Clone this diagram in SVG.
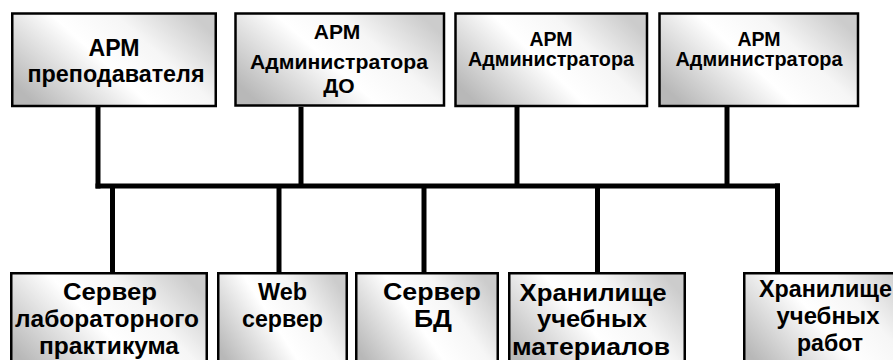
<svg xmlns="http://www.w3.org/2000/svg" width="893" height="360" viewBox="0 0 893 360">
<defs>
<linearGradient id="g" x1="0" y1="0.75" x2="1" y2="0.25">
<stop offset="0" stop-color="#b8b8b8"/>
<stop offset="0.45" stop-color="#ffffff"/>
<stop offset="0.7" stop-color="#f6f6f6"/>
<stop offset="1" stop-color="#cccccc"/>
</linearGradient>
</defs>
<style>
.box{fill:url(#g);stroke:#000;stroke-width:2.5}
.t{font-family:"Liberation Sans",Arial,sans-serif;font-weight:bold;fill:#000;text-anchor:middle}
.top1{font-size:23px}
.top2{font-size:21px}
.top3{font-size:19.5px}
.bot{font-size:23.5px}
.ln{stroke:#000;stroke-width:5;fill:none}
</style>
<rect width="893" height="360" fill="#fff"/>
<g id="connectors">
<line class="ln" x1="98" y1="107" x2="98" y2="188.5"/>
<line class="ln" x1="301" y1="107" x2="301" y2="186"/>
<line class="ln" x1="517" y1="107" x2="517" y2="186"/>
<line class="ln" x1="727" y1="107" x2="727" y2="186"/>
<line class="ln" x1="95.5" y1="186" x2="780" y2="186"/>
<line class="ln" x1="112.5" y1="186" x2="112.5" y2="272"/>
<line class="ln" x1="279" y1="186" x2="279" y2="272"/>
<line class="ln" x1="424" y1="186" x2="424" y2="272"/>
<line class="ln" x1="597.5" y1="186" x2="597.5" y2="272"/>
<line class="ln" x1="777.5" y1="183.5" x2="777.5" y2="272"/>
</g>
<g id="arm-teacher">
<rect class="box" x="12.25" y="13.5" width="203.5" height="92.5"/>
<text class="t top1" x="114" y="56" textLength="51" lengthAdjust="spacingAndGlyphs">АРМ</text>
<text class="t top1" x="116" y="82" textLength="177" lengthAdjust="spacingAndGlyphs">преподавателя</text>
</g>
<g id="arm-admin-do">
<rect class="box" x="235.5" y="13.5" width="208.5" height="92"/>
<text class="t top2" x="337" y="39">АРМ</text>
<text class="t top2" x="339" y="69" textLength="178" lengthAdjust="spacingAndGlyphs">Администратора</text>
<text class="t top2" x="339" y="93">ДО</text>
</g>
<g id="arm-admin-1">
<rect class="box" x="455.5" y="13.5" width="191.5" height="92.5"/>
<text class="t top3" x="551" y="46">АРМ</text>
<text class="t top3" x="551" y="66" textLength="166" lengthAdjust="spacingAndGlyphs">Администратора</text>
</g>
<g id="arm-admin-2">
<rect class="box" x="659.5" y="13.5" width="198.5" height="92.5"/>
<text class="t top3" x="759" y="46">АРМ</text>
<text class="t top3" x="759" y="66" textLength="167" lengthAdjust="spacingAndGlyphs">Администратора</text>
</g>
<g id="lab-server">
<rect class="box" x="11.25" y="273.25" width="195.5" height="100"/>
<text class="t bot" x="110" y="300" textLength="94" lengthAdjust="spacingAndGlyphs">Сервер</text>
<text class="t bot" x="107" y="327" textLength="184" lengthAdjust="spacingAndGlyphs">лабораторного</text>
<text class="t bot" x="109" y="354" textLength="140" lengthAdjust="spacingAndGlyphs">практикума</text>
</g>
<g id="web-server">
<rect class="box" x="218.25" y="273.25" width="128.5" height="100"/>
<text class="t bot" x="282.5" y="300" textLength="49" lengthAdjust="spacingAndGlyphs">Web</text>
<text class="t bot" x="282.5" y="327" textLength="81" lengthAdjust="spacingAndGlyphs">сервер</text>
</g>
<g id="db-server">
<rect class="box" x="356.25" y="273.25" width="141.5" height="100"/>
<text class="t bot" x="432" y="300" textLength="98" lengthAdjust="spacingAndGlyphs">Сервер</text>
<text class="t bot" x="433" y="327" textLength="38" lengthAdjust="spacingAndGlyphs">БД</text>
</g>
<g id="materials-storage">
<rect class="box" x="509.25" y="273.25" width="175.5" height="100"/>
<text class="t bot" x="593" y="301" textLength="147" lengthAdjust="spacingAndGlyphs">Хранилище</text>
<text class="t bot" x="592" y="327" textLength="110" lengthAdjust="spacingAndGlyphs">учебных</text>
<text class="t bot" x="591" y="355" textLength="158" lengthAdjust="spacingAndGlyphs">материалов</text>
</g>
<g id="works-storage">
<rect class="box" x="744.25" y="273.25" width="175.5" height="100"/>
<text class="t bot" x="825.5" y="297" textLength="133" lengthAdjust="spacingAndGlyphs">Хранилище</text>
<text class="t bot" x="828" y="324" textLength="103" lengthAdjust="spacingAndGlyphs">учебных</text>
<text class="t bot" x="830" y="351" textLength="66" lengthAdjust="spacingAndGlyphs">работ</text>
</g>
</svg>
